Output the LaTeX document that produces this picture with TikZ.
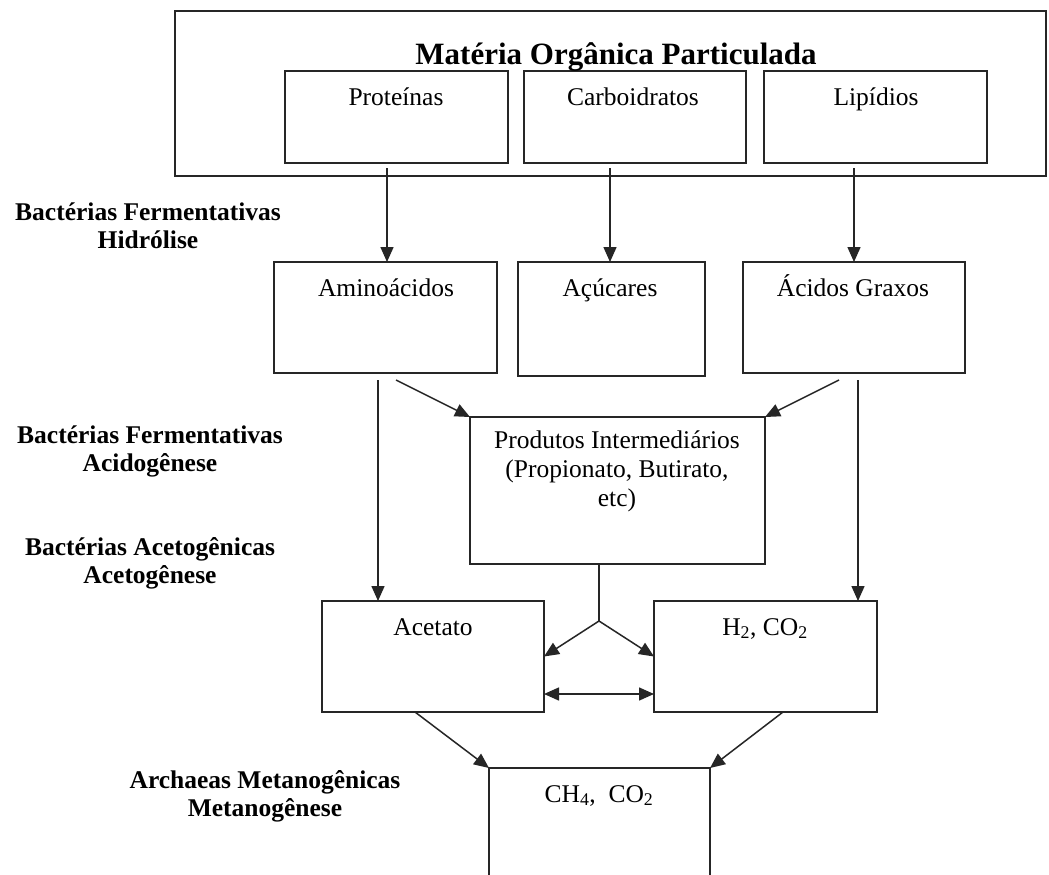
\documentclass[tikz,border=0pt]{standalone}
\usepackage{fontspec}
\setmainfont{Liberation Serif}
\usetikzlibrary{arrows.meta,calc}
\begin{document}
\begin{tikzpicture}[x=1pt,y=-1pt,
  box/.style={draw=black!85, line width=1.5pt, inner sep=0pt, outer sep=0pt},
  txt/.style={font=\fontsize{25.5}{29}\selectfont, anchor=base, inner sep=0pt, align=center},
  lbl/.style={font=\fontsize{25.5}{28}\selectfont\bfseries, anchor=base, inner sep=0pt, align=center},
  ttl/.style={font=\fontsize{31}{36}\selectfont\bfseries, anchor=base, inner sep=0pt},
  conn/.style={draw=black!85, line width=1.5pt},
  arr/.style={conn, -{Triangle[length=15pt,width=13pt]}},
  arrtwo/.style={conn, {Triangle[length=15pt,width=13pt]}-{Triangle[length=15pt,width=13pt]}}]
\useasboundingbox (0,0) rectangle (1049,875);
\clip (0,0) rectangle (1049,875);
\fill[white] (0,0) rectangle (1049,875);

% boxes
\node[box, minimum width=871pt, minimum height=165pt] (outer) at (610.5,93.5) {};
\node[box, minimum width=223pt, minimum height=92pt] (prot) at (396.5,117) {};
\node[box, minimum width=222pt, minimum height=92pt] (carb) at (635,117) {};
\node[box, minimum width=223pt, minimum height=92pt] (lip) at (875.5,117) {};
\node[box, minimum width=223pt, minimum height=111pt] (amino) at (385.5,317.5) {};
\node[box, minimum width=187pt, minimum height=114pt] (acuc) at (611.5,319) {};
\node[box, minimum width=222pt, minimum height=111pt] (acid) at (854,317.5) {};
\node[box, minimum width=295pt, minimum height=147pt] (prod) at (617.5,490.5) {};
\node[box, minimum width=222pt, minimum height=111pt] (acet) at (433,656.5) {};
\node[box, minimum width=223pt, minimum height=111pt] (htwo) at (765.5,656.5) {};
\node[box, minimum width=221pt, minimum height=164pt] (ch) at (599.5,850) {};

% texts
\node[ttl] (tmat) at (616,65) {Matéria Orgânica Particulada};
\node[txt] (tprot) at (396,105) {Proteínas};
\node[txt] (tcarb) at (633,105) {Carboidratos};
\node[txt] (tlip) at (876,105) {Lipídios};
\node[txt] (tamino) at (386,296) {Aminoácidos};
\node[txt] (tacuc) at (610,296) {Açúcares};
\node[txt] (tacid) at (853,296) {Ácidos Graxos};
\node[txt] (tprod) at (617,506) {Produtos Intermediários\\(Propionato, Butirato,\\etc)};
\node[txt] (tacet) at (433,635) {Acetato};
\node[txt] (thtwo) at (765,635) {H\textsubscript{2}, CO\textsubscript{2}};
\node[txt] (tch) at (599,802) {CH\textsubscript{4},\ \ CO\textsubscript{2}};

% stage labels (anchor at baseline of last line)
\node[lbl] (lhid) at (148,248) {Bactérias Fermentativas\\Hidrólise};
\node[lbl] (lacid) at (150,471) {Bactérias Fermentativas\\Acidogênese};
\node[lbl] (lacet) at (150,583) {Bactérias Acetogênicas\\Acetogênese};
\node[lbl] (lmet) at (265,816) {Archaeas Metanogênicas\\Metanogênese};

% connector start points
\coordinate (s1) at ($(prot.south)+(-9.5,5)$);
\coordinate (s2) at ($(carb.south)+(-25,5)$);
\coordinate (s3) at ($(lip.south)+(-21.5,5)$);
\coordinate (s4) at ($(amino.south)+(-7.5,7)$);
\coordinate (s5) at ($(acid.south)+(4,7)$);
\coordinate (s6) at ($(amino.south)+(10.5,7)$);
\coordinate (s7) at ($(acid.south)+(-15,7)$);
\coordinate (s8) at ($(acet.south)+(-18,0)$);
\coordinate (s9) at ($(htwo.south)+(17.5,0)$);
\coordinate (jn) at (599,621);
\coordinate (d1) at ($(acet.east)+(0,37.5)$);
\coordinate (d2) at ($(htwo.west)+(0,37.5)$);

% connectors
\draw[arr] (s1) -- (s1 |- amino.north);
\draw[arr] (s2) -- (s2 |- acuc.north);
\draw[arr] (s3) -- (s3 |- acid.north);
\draw[arr] (s4) -- (s4 |- acet.north);
\draw[arr] (s5) -- (s5 |- htwo.north);
\draw[arr] (s6) -- (prod.north west);
\draw[arr] (s7) -- (prod.north east);
\draw[conn] (prod.south -| jn) -- (jn);
\draw[arr] (jn) -- (acet.east);
\draw[arr] (jn) -- (htwo.west);
\draw[arrtwo] (d1) -- (d2);
\draw[arr] (s8) -- (ch.north west);
\draw[arr] (s9) -- (ch.north east);
\end{tikzpicture}
\end{document}
